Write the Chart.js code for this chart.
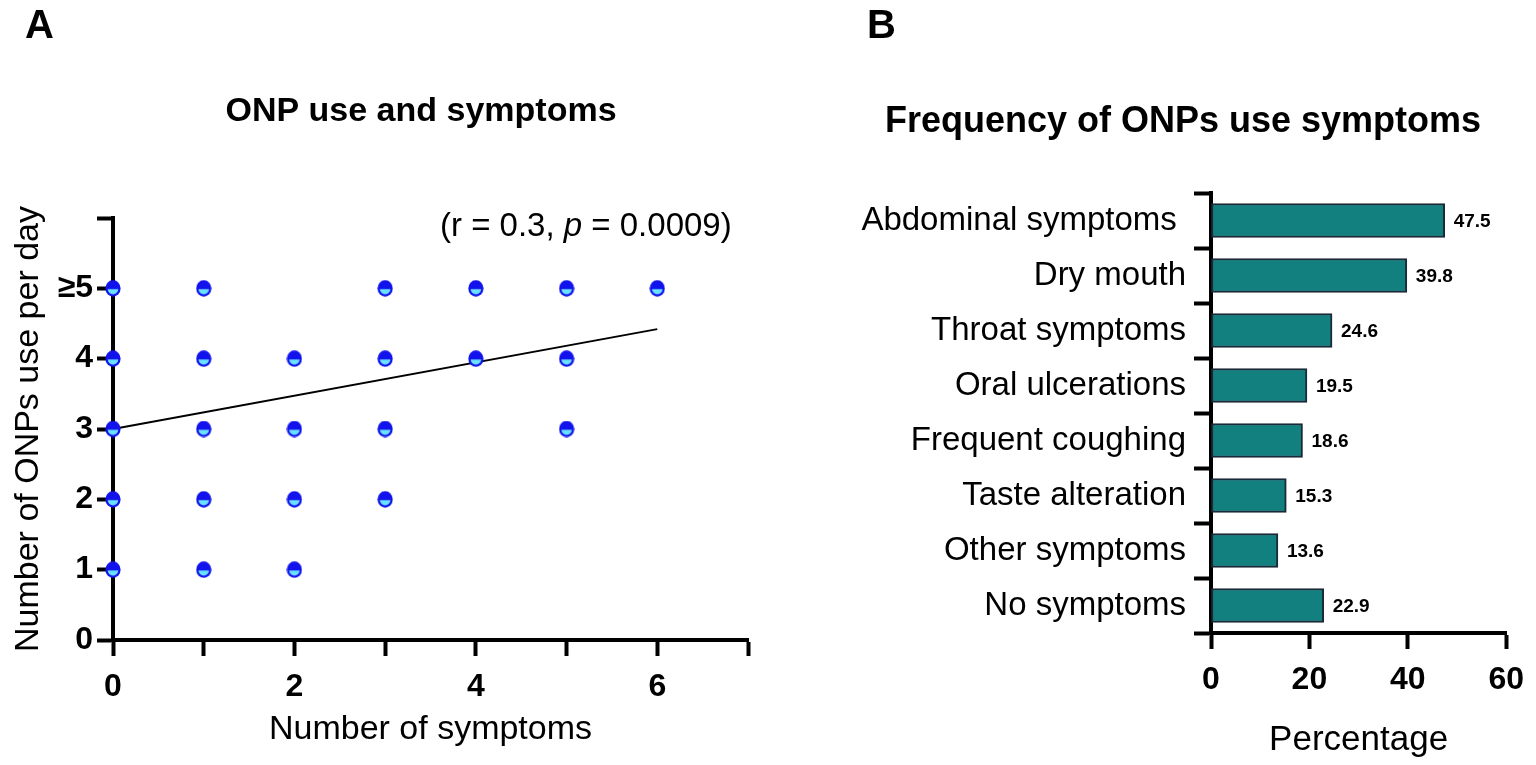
<!DOCTYPE html>
<html>
<head>
<meta charset="utf-8">
<title>ONP use and symptoms</title>
<script src="https://cdn.jsdelivr.net/npm/chart.js@4/dist/chart.umd.min.js"></script>
<style>
  html, body { margin: 0; padding: 0; background: #fff; }
  #wrap { position: relative; width: 1536px; height: 765px; overflow: hidden; }
  canvas { position: absolute; top: 0; }
  #scatter { left: 0; }
  #bars { left: 768px; }
</style>
</head>
<body>
<div id="wrap">
  <canvas id="scatter" width="768" height="765"></canvas>
  <canvas id="bars" width="768" height="765"></canvas>
</div>
<script>
// Panel A: one point per (symptoms, ONPs per day) pair seen in the figure
const symptomCounts = [0, 1, 3, 4, 5, 6,  0, 1, 2, 3, 4, 5,  0, 1, 2, 3, 5,  0, 1, 2, 3,  0, 1, 2];
const onpPerDay     = [5, 5, 5, 5, 5, 5,  4, 4, 4, 4, 4, 4,  3, 3, 3, 3, 3,  2, 2, 2, 2,  1, 1, 1];
// regression line ends
const fitX = [0, 6];
const fitY = [3.0, 4.42];
const xTickLabels = ['0', '', '2', '', '4', '', '6', ''];
const yTickLabels = ['0', '1', '2', '3', '4', '≥5', ''];

// Panel B
const symptomLabels = ['Abdominal symptoms ', 'Dry mouth', 'Throat symptoms', 'Oral ulcerations',
                       'Frequent coughing', 'Taste alteration', 'Other symptoms', 'No symptoms'];
const symptomPct = [47.5, 39.8, 24.6, 19.5, 18.6, 15.3, 13.6, 22.9];

Chart.defaults.font.family = '"Liberation Sans", Arial, sans-serif';
Chart.defaults.color = '#000';

// half blue / half cyan marker
const dot = document.createElement('canvas');
dot.width = 16; dot.height = 17;
const d = dot.getContext('2d');
d.fillStyle = '#1212ec';
d.beginPath(); d.ellipse(8, 8.5, 7.6, 8.2, 0, 0, Math.PI * 2); d.fill();
d.save();
d.beginPath(); d.ellipse(8, 8.5, 5.4, 6, 0, 0, Math.PI * 2); d.clip();
d.fillStyle = '#6ae2ff';
d.fillRect(0, 9.3, 16, 8);
d.restore();

const axisGrid = { drawOnChartArea: false, tickLength: 16, tickWidth: 4, color: '#000' };
const axisBorder = { width: 4, color: '#000' };

// texts that sit outside the axes
const panelA = {
  id: 'panelA',
  afterDraw(chart) {
    const ctx = chart.ctx;
    ctx.save();
    ctx.fillStyle = '#000';
    ctx.textBaseline = 'alphabetic';
    ctx.textAlign = 'left';
    ctx.font = 'bold 40px "Liberation Sans", Arial, sans-serif';
    ctx.fillText('A', 25, 38);
    ctx.textAlign = 'center';
    ctx.font = 'bold 34px "Liberation Sans", Arial, sans-serif';
    ctx.fillText('ONP use and symptoms', 421, 121);
    // (r = 0.3, p = 0.0009) with italic p
    ctx.textAlign = 'left';
    const reg = '33px "Liberation Sans", Arial, sans-serif';
    const ita = 'italic 33px "Liberation Sans", Arial, sans-serif';
    let x = 440;
    const parts = [['(r = 0.3, ', reg], ['p', ita], [' = 0.0009)', reg]];
    parts.forEach(([t, f]) => {
      ctx.font = f;
      ctx.fillText(t, x, 236);
      x += ctx.measureText(t).width;
    });
    ctx.restore();
  }
};

const panelB = {
  id: 'panelB',
  afterDraw(chart) {
    const ctx = chart.ctx;
    ctx.save();
    ctx.fillStyle = '#000';
    ctx.textBaseline = 'alphabetic';
    ctx.textAlign = 'left';
    ctx.font = 'bold 40px "Liberation Sans", Arial, sans-serif';
    ctx.fillText('B', 867 - 768, 38);
    ctx.textAlign = 'center';
    ctx.font = 'bold 36px "Liberation Sans", Arial, sans-serif';
    ctx.fillText('Frequency of ONPs use symptoms', 1183 - 768, 132);
    // value labels at bar ends
    ctx.textAlign = 'left';
    ctx.textBaseline = 'middle';
    ctx.font = 'bold 19px "Liberation Sans", Arial, sans-serif';
    chart.getDatasetMeta(0).data.forEach((bar, i) => {
      ctx.fillText(symptomPct[i].toFixed(1), bar.x + 9, bar.y + 1);
    });
    ctx.restore();
  }
};

new Chart(document.getElementById('scatter'), {
  type: 'scatter',
  data: {
    datasets: [
      {
        type: 'line',
        data: fitX.map((x, i) => ({ x: x, y: fitY[i] })),
        borderColor: '#000',
        borderWidth: 2,
        pointRadius: 0,
        clip: false,
        order: 1
      },
      {
        data: symptomCounts.map((x, i) => ({ x: x, y: onpPerDay[i] })),
        pointStyle: dot,
        pointRadius: 8,
        clip: false,
        order: 0
      }
    ]
  },
  options: {
    responsive: false,
    animation: false,
    layout: { padding: { top: 218, right: 20, left: 0, bottom: 0 }, autoPadding: false },
    plugins: { legend: { display: false }, tooltip: { enabled: false } },
    scales: {
      x: {
        type: 'linear', min: 0, max: 7,
        ticks: { stepSize: 1, autoSkip: false, maxRotation: 0, padding: 12,
                 font: { size: 32, weight: 'bold' }, callback: v => xTickLabels[v] },
        grid: axisGrid,
        border: axisBorder,
        title: { display: true, text: 'Number of symptoms', font: { size: 34 }, padding: { top: 0, bottom: 15 } },
        afterFit: s => { s.height = 125; }
      },
      y: {
        type: 'linear', min: 0, max: 6,
        ticks: { stepSize: 1, autoSkip: false, padding: 4,
                 font: { size: 32, weight: 'bold' }, callback: v => yTickLabels[v] },
        grid: axisGrid,
        border: axisBorder,
        title: { display: true, text: 'Number of ONPs use per day', font: { size: 34 }, padding: { top: 8, bottom: 0 } },
        afterFit: s => { s.width = 113; }
      }
    }
  },
  plugins: [panelA]
});

new Chart(document.getElementById('bars'), {
  type: 'bar',
  data: {
    labels: symptomLabels,
    datasets: [{
      data: symptomPct,
      backgroundColor: '#138080',
      borderColor: '#1b2a38',
      borderWidth: 2,
      borderSkipped: false,
      barThickness: 34
    }]
  },
  options: {
    indexAxis: 'y',
    responsive: false,
    animation: false,
    layout: { padding: { top: 193, right: 25, left: 0, bottom: 0 }, autoPadding: false },
    plugins: { legend: { display: false }, tooltip: { enabled: false } },
    scales: {
      x: {
        min: 0, max: 60,
        ticks: { stepSize: 20, padding: 12, maxRotation: 0, font: { size: 32, weight: 'bold' } },
        grid: axisGrid,
        border: axisBorder,
        title: { display: true, text: 'Percentage', font: { size: 35 }, padding: { top: 0, bottom: 4 } },
        afterFit: s => { s.height = 132; }
      },
      y: {
        ticks: { padding: 8, autoSkip: false, font: { size: 33 } },
        grid: { drawOnChartArea: false, tickLength: 17, tickWidth: 4, color: '#000' },
        border: axisBorder,
        afterFit: s => { s.width = 443; }
      }
    }
  },
  plugins: [panelB]
});
</script>
</body>
</html>
